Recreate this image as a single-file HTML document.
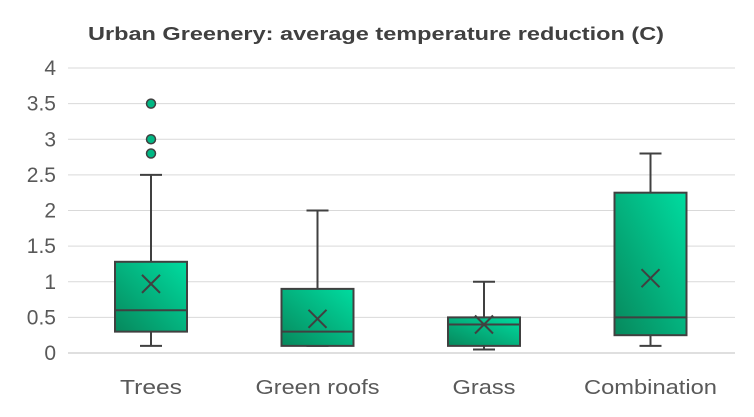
<!DOCTYPE html>
<html><head><meta charset="utf-8"><style>
body{margin:0;background:#fff;}
svg{display:block;font-family:"Liberation Sans",Arial,sans-serif;}
</style></head><body>
<svg id="c" width="754" height="417">
<defs><linearGradient id="g" x1="0" y1="1" x2="1" y2="0">
<stop offset="0" stop-color="#07885c"/><stop offset="1" stop-color="#00dca0"/></linearGradient></defs>
<text x="376" y="40" text-anchor="middle" font-size="18" font-weight="bold" fill="#404040" textLength="576" lengthAdjust="spacingAndGlyphs">Urban Greenery: average temperature reduction (C)</text>
</svg>
<script>
const categories=["Trees","Green roofs","Grass","Combination"];
const mins=[0.1,0.1,0.05,0.1];
const q1s=[0.3,0.1,0.1,0.25];
const medians=[0.6,0.3,0.4,0.5];
const q3s=[1.28,0.9,0.5,2.25];
const maxs=[2.5,2.0,1.0,2.8];
const means=[0.97,0.48,0.4,1.05];
const outliers=[[2.8,3.0,3.5],[],[],[]];
const ticks=[0,0.5,1,1.5,2,2.5,3,3.5,4];
const tickLabels=["0","0.5","1","1.5","2","2.5","3","3.5","4"];
const labelWidths=[62,124,63,133];
const svg=document.getElementById('c');const NS="http://www.w3.org/2000/svg";
const y=v=>353-v*71.25;const x=i=>151+i*166.5;
function mk(t,a,p){const e=document.createElementNS(NS,t);for(const k in a)e.setAttribute(k,a[k]);(p||svg).appendChild(e);return e;}
ticks.forEach((t,i)=>{
 const l=mk('line',{x1:68,x2:735,y1:y(t),y2:y(t),stroke:i==0?'#bfbfbf':'#d9d9d9','stroke-width':1});
 
 
 const tx=mk('text',{x:56,y:y(t)+7,'text-anchor':'end','font-size':21,fill:'#595959'});tx.textContent=tickLabels[i];
 
 
});
categories.forEach((c,i)=>{
 const cx=x(i),g=mk('g',{});
 
 
 const s={stroke:'#404040','stroke-width':2};
 mk('line',{x1:cx,x2:cx,y1:y(maxs[i]),y2:y(q3s[i]),...s},g);
 mk('line',{x1:cx,x2:cx,y1:y(q1s[i]),y2:y(mins[i]),...s},g);
 mk('line',{x1:cx-11,x2:cx+11,y1:y(maxs[i]),y2:y(maxs[i]),...s},g);
 mk('line',{x1:cx-11,x2:cx+11,y1:y(mins[i]),y2:y(mins[i]),...s},g);
 mk('rect',{x:cx-36,y:y(q3s[i]),width:72,height:Math.max(1,y(q1s[i])-y(q3s[i])),fill:'url(#g)',...s},g);
 mk('line',{x1:cx-36,x2:cx+36,y1:y(medians[i]),y2:y(medians[i]),...s},g);
 const m=y(means[i]);
 mk('path',{d:`M${cx-9} ${m-9}L${cx+9} ${m+9}M${cx+9} ${m-9}L${cx-9} ${m+9}`,stroke:'#404040','stroke-width':2},g);
 outliers[i].forEach(o=>mk('circle',{cx:cx,cy:y(o),r:4.5,fill:'#00b884',stroke:'#404040','stroke-width':1.5},g));
 const t=mk('text',{x:cx,y:394,'text-anchor':'middle','font-size':20,fill:'#595959',textLength:labelWidths[i],lengthAdjust:'spacingAndGlyphs'});t.textContent=c;
 
 
});
</script>
</body></html>
